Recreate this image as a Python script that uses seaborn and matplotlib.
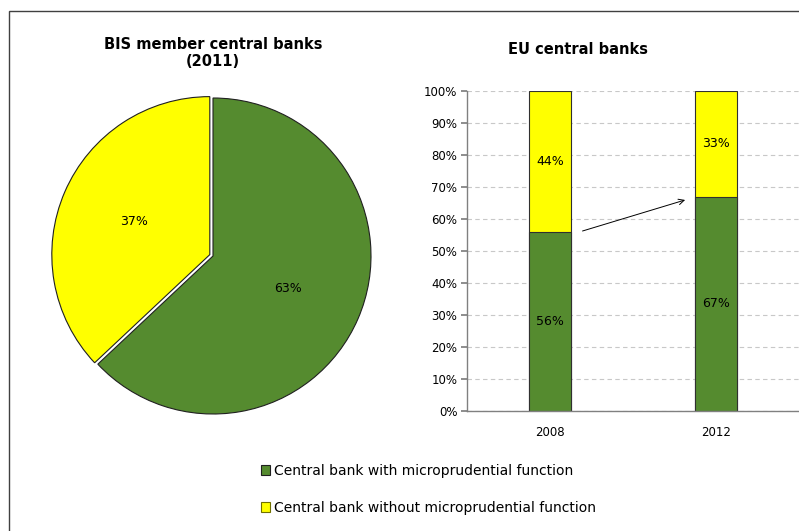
import matplotlib
matplotlib.use("Agg")
import matplotlib.pyplot as plt
import seaborn as sns
import pandas as pd
from matplotlib.patches import Patch, Rectangle
from matplotlib.ticker import FuncFormatter

# ---- data ----
pie_labels = ["Central bank with microprudential function",
              "Central bank without microprudential function"]
pie_values = [63, 37]
years = ["2008", "2012"]
with_micro = [56, 67]
without_micro = [44, 33]
yticks = list(range(0, 101, 10))

GREEN = "#558B2F"
YELLOW = "#FFFF00"

sns.set_theme(style="white")
plt.rcParams["font.family"] = ["DejaVu Sans"]
plt.rcParams["text.color"] = "black"
plt.rcParams["xtick.color"] = "black"
plt.rcParams["ytick.color"] = "black"

fig = plt.figure(figsize=(7.99, 5.31), dpi=100)
W, H = 799, 531

def fx(px):
    return px / W

def fy(py):
    return 1 - py / H

# ---- pie ----
pw = 395
pax = fig.add_axes([fx(213 - pw / 2), fy(256 + pw / 2), pw / W, pw / H])
wedges, texts, autotexts = pax.pie(
    pie_values, colors=[GREEN, YELLOW], startangle=90, counterclock=False,
    explode=[0, 0.022], autopct="%d%%", pctdistance=0.52,
    wedgeprops=dict(edgecolor="#202020", linewidth=0.8),
    textprops=dict(fontsize=9, color="black"))
pax.set_xlim(-1.25, 1.25)
pax.set_ylim(-1.25, 1.25)
pax.set_aspect("equal")
fig.text(fx(213), fy(53), "BIS member central banks\n(2011)", ha="center",
         va="center", fontsize=10.5, fontweight="bold", linespacing=1.15,
         color="black")

# ---- stacked bars ----
bax = fig.add_axes([fx(467), fy(411), (W - 467) / W, 320 / H])
df = pd.DataFrame({"year": years, "with": with_micro, "without": without_micro})
df["total"] = df["with"] + df["without"]
sns.barplot(data=df, x="year", y="total", color=YELLOW, width=0.25,
            edgecolor="#303030", linewidth=0.8, saturation=1, ax=bax)
sns.barplot(data=df, x="year", y="with", color=GREEN, width=0.25,
            edgecolor="#303030", linewidth=0.8, saturation=1, ax=bax)
bax.set_xlim(-0.5, 1.5)
bax.set_ylim(0, 100)
bax.set_yticks(yticks)
bax.yaxis.set_major_formatter(FuncFormatter(lambda v, p: f"{int(v)}%"))
bax.set_xlabel("")
bax.set_ylabel("")
bax.grid(axis="y", linestyle=(0, (4, 3)), color="#C8C8C8", linewidth=0.8)
bax.set_axisbelow(True)
for s in ["top", "right"]:
    bax.spines[s].set_visible(False)
for s in ["left", "bottom"]:
    bax.spines[s].set_color("#808080")
    bax.spines[s].set_linewidth(1)
bax.tick_params(axis="y", left=True, length=4, color="#808080", pad=3,
                labelsize=8.5, labelcolor="black")
bax.tick_params(axis="x", bottom=False, length=0, pad=11, labelsize=8.5,
                labelcolor="black")

for i in range(len(years)):
    bax.text(i, with_micro[i] / 2, f"{with_micro[i]}%", ha="center",
             va="center", fontsize=9, color="black")
    bax.text(i, with_micro[i] + without_micro[i] / 2, f"{without_micro[i]}%",
             ha="center", va="center", fontsize=9, color="black")

bax.annotate("", xy=(0.83, 66.2), xytext=(0.18, 56),
             arrowprops=dict(arrowstyle="->", lw=0.7, color="black",
                             mutation_scale=10))

fig.text(fx(578), fy(49), "EU central banks", ha="center", va="center",
         fontsize=10.5, fontweight="bold", color="black")

# ---- legend ----
handles = [Patch(facecolor=GREEN, edgecolor="#202020", linewidth=0.8),
           Patch(facecolor=YELLOW, edgecolor="#707000", linewidth=0.8)]
fig.legend(handles, pie_labels, loc="upper left",
           bbox_to_anchor=(fx(255), fy(458)), frameon=False, fontsize=10,
           handlelength=0.7, handleheight=0.7, handletextpad=0.3,
           labelspacing=1.68, borderaxespad=0, labelcolor="black")

# ---- outer border ----
fig.add_artist(Rectangle((fx(9), -0.1), 2, fy(11) + 0.1,
                         transform=fig.transFigure, fill=False,
                         edgecolor="#404040", linewidth=1))

fig.savefig("out.png", dpi=100)
